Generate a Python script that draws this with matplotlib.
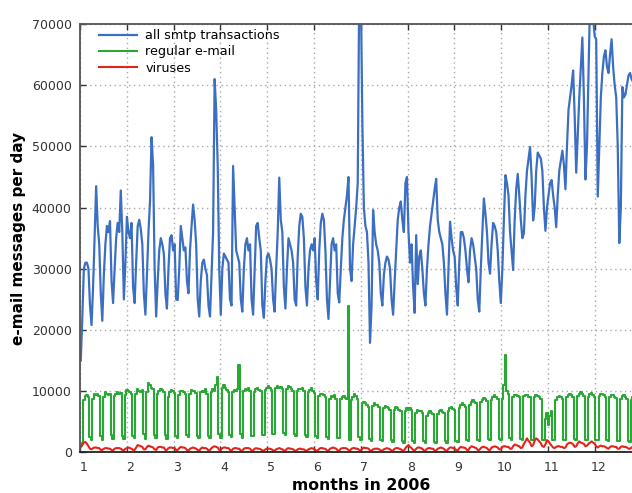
import numpy as np
import matplotlib
matplotlib.use("Agg")
import matplotlib.pyplot as plt
from matplotlib.transforms import ScaledTranslation

# Daily message counts for 2006, in thousands, one row per week (Sun..Sat)
smtp_k = [
    15.0, 22.0, 30.0, 31.0, 31.0, 30.0, 24.0,
    20.8, 27.0, 35.0, 43.5, 37.0, 34.0, 26.0,
    21.5, 29.0, 34.0, 37.0, 36.0, 37.8, 28.0,
    24.4, 30.0, 35.0, 37.5, 36.0, 42.8, 36.0,
    25.0, 31.0, 38.5, 36.0, 35.0, 37.5, 27.0,
    24.4, 31.0, 37.0, 38.0, 36.5, 34.0, 26.0,
    22.5, 29.0, 36.0, 41.0, 51.5, 47.0, 30.0,
    22.2, 28.0, 33.0, 35.0, 34.0, 32.5, 26.0,
    23.5, 30.0, 35.0, 35.5, 33.0, 34.0, 25.0,
    24.9, 30.0, 37.0, 35.0, 33.0, 33.5, 28.0,
    26.0, 33.0, 37.0, 40.5, 38.0, 34.0, 25.0,
    22.2, 28.0, 31.0, 31.5, 30.0, 29.0, 24.0,
    22.2, 29.0, 36.0, 61.0, 56.0, 47.0, 30.0,
    22.5, 30.0, 32.5, 32.0, 31.5, 31.0, 25.0,
    24.0, 46.8, 40.0, 33.0, 32.0, 31.0, 25.0,
    23.0, 30.0, 34.0, 35.0, 33.0, 34.0, 25.0,
    22.5, 30.0, 37.0, 37.5, 35.0, 33.0, 24.0,
    22.0, 28.0, 32.0, 32.5, 31.5, 30.0, 25.0,
    23.0, 30.0, 36.0, 44.9, 38.0, 36.0, 27.0,
    23.5, 30.0, 35.0, 34.0, 33.0, 31.0, 25.0,
    24.0, 32.0, 37.0, 39.0, 38.5, 35.0, 27.0,
    24.0, 30.0, 33.0, 34.0, 33.0, 35.0, 28.0,
    25.0, 33.0, 37.5, 39.0, 38.0, 33.0, 25.0,
    21.8, 28.0, 34.0, 35.0, 33.0, 34.0, 26.0,
    24.5, 30.0, 35.0, 38.0, 40.0, 42.0, 45.0,
    30.0, 28.0, 34.0, 37.0, 40.0, 44.0, 76.0,
    76.0, 54.0, 40.0, 37.0, 36.0, 31.0, 17.9,
    24.0, 39.6, 36.0, 34.0, 33.0, 31.0, 26.0,
    24.0, 29.0, 31.0, 32.0, 31.5, 30.0, 25.0,
    22.5, 28.0, 33.0, 38.0, 40.0, 41.0, 38.0,
    36.0, 44.0, 45.0, 36.0, 31.0, 34.0, 27.0,
    22.8, 35.5, 27.5, 32.0, 33.0, 30.0, 26.0,
    24.0, 30.0, 34.0, 37.0, 39.0, 41.0, 43.0,
    44.7, 38.0, 36.0, 35.0, 34.0, 31.0, 26.0,
    22.5, 30.0, 37.7, 35.0, 33.0, 32.0, 27.0,
    24.0, 31.0, 36.0, 36.0, 35.0, 33.0, 30.0,
    27.8, 33.0, 35.0, 34.0, 32.0, 30.0, 25.0,
    23.0, 30.0, 36.0, 41.5, 39.0, 36.0, 31.0,
    29.2, 34.0, 37.5, 37.0, 36.0, 33.0, 28.0,
    24.4, 30.0, 38.0, 45.3, 44.0, 42.0, 36.0,
    33.0, 29.8, 38.0, 43.0, 45.5, 42.0, 38.0,
    35.0, 35.8, 42.0, 46.0, 48.0, 49.9, 45.0,
    37.9, 40.0, 46.0, 49.0, 48.5, 48.0, 46.0,
    40.0, 36.2, 40.0, 42.0, 44.0, 44.5, 42.0,
    40.0, 36.8, 42.0, 46.0, 47.7, 49.3, 47.0,
    43.0, 50.0, 56.0, 58.0, 60.0, 62.4, 55.0,
    45.7, 52.0, 58.0, 63.0, 67.8, 58.0, 44.6,
    50.0, 62.0, 74.0, 74.0, 71.0, 68.0, 67.5,
    41.8, 50.0, 58.0, 62.0, 64.7, 65.7, 63.0,
    62.0, 65.0, 67.5, 63.0, 60.0, 58.0, 50.0,
    34.2, 40.0, 59.7, 58.0, 58.5, 60.0, 61.6,
    62.0, 61.0, 60.5, 61.0, 60.0, 59.0, 58.0,
    57.0,
]

regular_k = [
    1.0, 1.5, 8.5, 9.2, 9.3, 9.0, 2.5,
    2.0, 8.8, 9.5, 9.3, 9.6, 9.2, 2.6,
    2.0, 9.0, 9.8, 9.6, 9.4, 9.5, 2.8,
    2.2, 9.2, 9.6, 9.8, 9.5, 9.7, 2.7,
    2.2, 9.4, 10.2, 10.0, 9.8, 9.5, 2.6,
    2.3, 9.5, 10.4, 10.0, 9.8, 10.2, 3.0,
    2.2, 9.8, 11.3, 11.0, 10.5, 10.3, 2.8,
    2.3, 9.5, 10.0, 10.3, 10.2, 9.8, 2.8,
    2.2, 9.0, 9.8, 10.2, 10.0, 9.7, 2.7,
    2.4, 9.3, 10.1, 10.0, 9.8, 9.6, 2.8,
    2.5, 9.6, 10.2, 10.1, 10.0, 9.7, 2.6,
    2.4, 9.8, 10.1, 9.9, 10.3, 9.6, 2.7,
    2.3, 9.8, 10.3, 10.0, 11.0, 12.3, 3.0,
    2.4, 10.5, 11.0, 10.6, 10.2, 9.9, 2.8,
    2.5, 9.8, 10.2, 10.0, 10.3, 14.3, 3.0,
    2.4, 10.0, 10.4, 10.2, 10.5, 10.0, 2.7,
    2.6, 9.8, 10.3, 10.6, 10.2, 10.0, 2.8,
    2.8, 10.2, 10.6, 10.9, 10.5, 10.2, 3.0,
    3.0, 10.5, 10.8, 10.6, 10.7, 10.3, 3.2,
    2.8, 10.3, 10.9, 10.7, 10.4, 10.0, 3.0,
    2.6, 10.0, 10.4, 10.3, 10.5, 10.1, 2.8,
    2.5, 9.8, 10.2, 10.5, 10.0, 9.7, 2.6,
    2.4, 9.2, 9.5, 9.6, 9.4, 9.0, 2.5,
    2.2, 8.8, 9.2, 9.0, 9.3, 8.8, 2.4,
    2.3, 8.7, 9.0, 9.2, 8.9, 8.8, 24.0,
    2.0, 8.5, 9.0, 9.5, 9.2, 8.8, 2.5,
    2.0, 8.0, 8.2, 8.0, 7.8, 7.5, 2.2,
    1.8, 7.6, 8.0, 7.8, 7.7, 7.4, 2.0,
    1.8, 7.2, 7.6, 7.5, 7.3, 7.0, 2.0,
    1.7, 7.0, 7.4, 7.2, 7.0, 6.8, 1.9,
    1.6, 6.8, 7.2, 7.0, 7.3, 6.9, 1.8,
    1.6, 6.5, 6.9, 6.8, 6.7, 6.5, 1.8,
    1.5, 6.0, 6.5, 6.7, 6.4, 6.2, 1.7,
    1.5, 6.3, 6.8, 7.0, 6.6, 6.4, 1.8,
    1.6, 6.8, 7.2, 7.4, 7.1, 6.9, 1.9,
    1.7, 7.3, 7.8, 8.0, 7.7, 7.5, 2.0,
    1.8, 7.8, 8.3, 8.5, 8.2, 8.0, 2.1,
    1.9, 8.2, 8.6, 8.9, 8.7, 8.4, 2.2,
    2.0, 8.5, 9.0, 9.3, 9.0, 8.8, 2.2,
    2.0, 8.8, 11.0, 15.9, 10.0, 9.5, 2.3,
    2.0, 9.0, 9.3, 9.4, 9.2, 9.0, 2.2,
    2.0, 9.2, 9.4, 9.3, 9.1, 9.0, 2.1,
    2.0, 9.0, 9.3, 9.2, 9.0, 8.8, 2.0,
    2.0, 5.5, 6.5, 4.5, 6.0, 6.8, 2.0,
    2.0, 8.5, 9.0, 9.2, 9.0, 8.8, 2.1,
    2.1, 9.0, 9.4, 9.5, 9.3, 9.0, 2.2,
    2.0, 9.2, 9.6, 9.8, 9.5, 9.2, 2.1,
    2.0, 9.0, 9.5, 9.7, 9.4, 9.1, 2.0,
    2.0, 9.2, 9.6, 9.5, 9.3, 9.0, 2.0,
    1.9, 9.0, 9.4, 9.3, 9.1, 8.9, 1.9,
    1.8, 8.8, 9.2, 9.3, 9.0, 8.8, 1.8,
    1.7, 8.5, 9.0, 9.1, 8.9, 8.6, 1.8,
    1.6,
]

virus_k = [
    0.9, 1.2, 1.6, 1.7, 1.4, 1.0, 0.6,
    0.5, 0.7, 0.8, 0.8, 0.7, 0.7, 0.4,
    0.4, 0.6, 0.7, 0.7, 0.6, 0.6, 0.4,
    0.3, 0.6, 0.7, 0.7, 0.7, 0.6, 0.4,
    0.3, 0.6, 0.7, 0.8, 0.7, 0.6, 0.4,
    0.4, 0.8, 1.2, 1.1, 1.0, 0.9, 0.5,
    0.5, 0.9, 1.1, 1.0, 0.9, 0.8, 0.5,
    0.4, 0.8, 0.9, 0.9, 0.8, 0.8, 0.4,
    0.4, 0.7, 0.8, 0.8, 0.7, 0.7, 0.4,
    0.4, 0.7, 0.9, 0.8, 0.8, 0.7, 0.4,
    0.3, 0.6, 0.7, 0.8, 0.7, 0.6, 0.4,
    0.3, 0.6, 0.8, 0.7, 0.7, 0.6, 0.3,
    0.4, 0.7, 0.9, 1.0, 0.9, 0.8, 0.4,
    0.4, 0.7, 0.8, 0.8, 0.7, 0.7, 0.4,
    0.3, 0.6, 0.7, 0.7, 0.6, 0.6, 0.3,
    0.3, 0.6, 0.7, 0.7, 0.7, 0.6, 0.3,
    0.3, 0.6, 0.7, 0.6, 0.6, 0.5, 0.3,
    0.3, 0.5, 0.6, 0.6, 0.6, 0.5, 0.3,
    0.3, 0.5, 0.6, 0.7, 0.6, 0.5, 0.3,
    0.3, 0.6, 0.7, 0.6, 0.6, 0.5, 0.3,
    0.3, 0.5, 0.6, 0.6, 0.5, 0.5, 0.3,
    0.3, 0.5, 0.6, 0.7, 0.6, 0.5, 0.3,
    0.3, 0.6, 0.7, 0.7, 0.6, 0.6, 0.3,
    0.3, 0.6, 0.7, 0.8, 0.7, 0.6, 0.3,
    0.3, 0.6, 0.7, 0.7, 0.7, 0.6, 0.4,
    0.3, 0.6, 0.7, 0.7, 0.6, 0.6, 0.4,
    0.3, 0.6, 0.8, 0.7, 0.7, 0.6, 0.3,
    0.3, 0.5, 0.6, 0.6, 0.6, 0.5, 0.3,
    0.3, 0.5, 0.6, 0.7, 0.6, 0.5, 0.3,
    0.3, 0.6, 0.7, 0.7, 0.6, 0.5, 0.3,
    0.3, 0.7, 1.0, 1.2, 0.9, 0.7, 0.4,
    0.3, 0.6, 0.8, 0.8, 0.7, 0.6, 0.3,
    0.3, 0.6, 0.7, 0.7, 0.6, 0.6, 0.3,
    0.3, 0.6, 0.7, 0.8, 0.7, 0.6, 0.3,
    0.3, 0.6, 0.8, 0.8, 0.7, 0.6, 0.4,
    0.3, 0.7, 0.9, 0.8, 0.8, 0.7, 0.4,
    0.4, 0.8, 1.0, 0.9, 0.8, 0.7, 0.4,
    0.4, 0.7, 0.9, 0.9, 0.8, 0.7, 0.4,
    0.4, 0.8, 0.9, 1.0, 0.9, 0.8, 0.5,
    0.5, 0.9, 1.0, 1.0, 0.9, 0.9, 0.6,
    0.6, 1.0, 1.3, 1.2, 1.1, 1.0, 0.7,
    0.8, 1.4, 1.8, 2.3, 1.9, 1.6, 1.0,
    1.2, 1.9, 2.3, 2.1, 1.8, 1.5, 1.0,
    0.9, 1.3, 2.0, 1.8, 1.4, 1.1, 0.8,
    0.7, 0.9, 1.0, 1.0, 0.9, 0.9, 0.7,
    0.8, 1.3, 1.5, 1.6, 1.5, 1.3, 0.9,
    1.0, 1.5, 1.8, 1.6, 1.5, 1.4, 1.0,
    1.1, 1.4, 1.6, 1.8, 1.6, 1.4, 1.0,
    0.8, 1.0, 1.1, 1.0, 1.0, 0.9, 0.7,
    0.6, 0.9, 1.0, 1.0, 0.9, 0.9, 0.6,
    0.6, 0.9, 1.0, 0.9, 0.9, 0.8, 0.6,
    0.6, 0.8, 0.9, 0.9, 0.8, 0.8, 0.6,
    0.6,
]

month_ticks = list(range(1, 13))
month_labels = [str(m) for m in month_ticks]

BLUE = "#3c6fc2"
GREEN = "#29a836"
RED = "#e3241b"

days = np.arange(len(smtp_k))
# place each day at its midpoint on a 1..13 month scale
xpos = 1 + (days + 0.5) * 12.0 / 365.0

fig = plt.figure(figsize=(6.32, 4.93), dpi=100)
ax = fig.add_axes([80 / 632, 1 - 452.4 / 493, 561.6 / 632, 428.4 / 493])

ax.plot(xpos, np.array(smtp_k) * 1000, color=BLUE, lw=1.6,
        label="all smtp transactions")
ax.plot(xpos, np.array(regular_k) * 1000, color=GREEN, lw=1.5,
        drawstyle="steps-mid", label="regular e-mail")
ax.plot(xpos, np.array(virus_k) * 1000, color=RED, lw=1.5,
        label="viruses")

ax.set_xlim(1, 13)
ax.set_ylim(0, 70000)
ax.set_xticks(month_ticks)
ax.set_xticklabels(month_labels)
ax.set_yticks(range(0, 70001, 10000))

ax.grid(True, color="#a8a8a8", linestyle=(0, (1, 2.5)), linewidth=1.0)
ax.set_axisbelow(True)

ax.tick_params(direction="in", top=True, right=True, length=4, width=1,
               labelsize=9, colors="#333333", pad=6)
for lbl in ax.get_xticklabels():
    lbl.set_transform(lbl.get_transform() + ScaledTranslation(3.5 / 100, 0, fig.dpi_scale_trans))

for side in ("left", "top", "right"):
    ax.spines[side].set_color("#555555")
    ax.spines[side].set_linewidth(1.3)
ax.spines["bottom"].set_color("#222222")
ax.spines["bottom"].set_linewidth(1.3)

ax.set_xlabel("months in 2006", fontsize=11.3, fontweight="bold", labelpad=3)
ax.set_ylabel("e-mail messages per day", fontsize=11, fontweight="bold", labelpad=4)

ax.legend(loc="upper left", frameon=False, fontsize=9.2, handlelength=3.0,
          labelspacing=0.25, borderaxespad=0.0, handletextpad=0.6,
          bbox_to_anchor=(0.025, 1.0))

fig.savefig("out.png", dpi=100)
